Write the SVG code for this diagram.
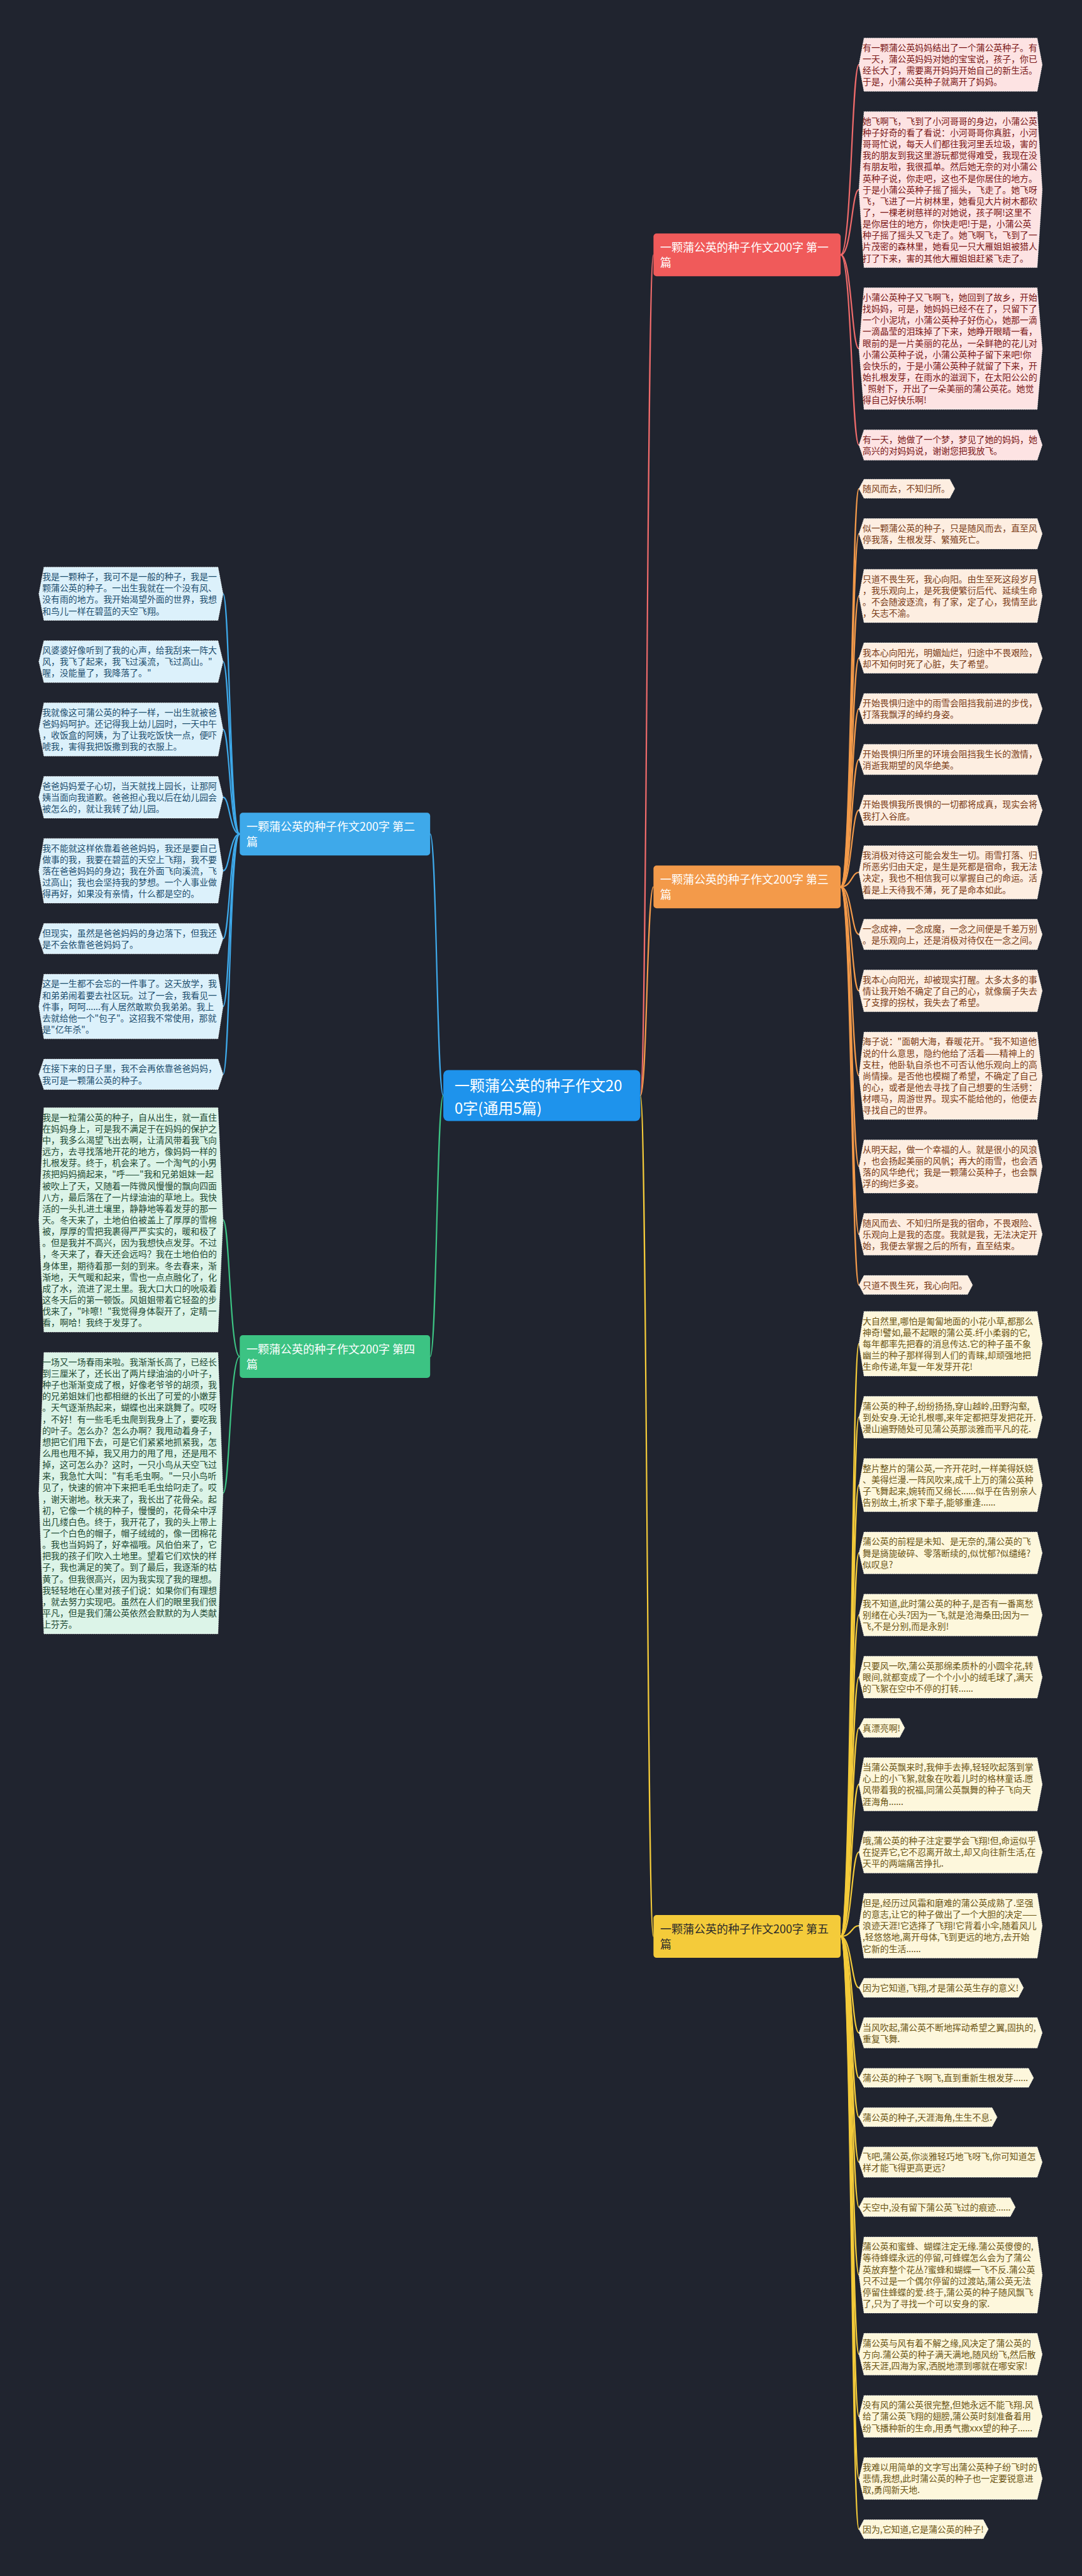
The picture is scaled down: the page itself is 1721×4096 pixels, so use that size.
<svg xmlns="http://www.w3.org/2000/svg" width="1721" height="4096" viewBox="0 0 1721 4096">
<style>
text{font-family:"Noto Sans CJK SC","Noto Sans",sans-serif}
.lf{font-size:13.9px}
.hx{stroke:#ffffff;stroke-opacity:.75;stroke-width:1;stroke-dasharray:1.5 1.5}
.f1{fill:#fde3e3}.t1{fill:#7a1616}
.f2{fill:#dcf1fb}.t2{fill:#1c4e6e}
.f3{fill:#fdeee1}.t3{fill:#7a3b16}
.f4{fill:#dcf4e8}.t4{fill:#1d4a33}
.f5{fill:#fdf7dc}.t5{fill:#6b5514}
.c{fill:none;stroke-width:2.2}
.c1{stroke:#ef6b6b}.c2{stroke:#3ea9ea}.c3{stroke:#f39a4a}.c4{stroke:#3cc383}.c5{stroke:#f4cb3a}
.bn{font-size:18px;fill:#ffffff}
.bt{font-size:18px;fill:#2a2a2a}
</style>
<rect x="0" y="0" width="1721" height="4096" fill="#20242f"/>

<g id="connectors">
<path class="c c1" stroke-width="3" d="M1018.5,1742 C1029,1742 1029,405.2 1039.4,405.2"/>
<path class="c c3" stroke-width="3" d="M1018.5,1742 C1029,1742 1029,1410.2 1039.4,1410.2"/>
<path class="c c5" stroke-width="3" d="M1018.5,1742 C1029,1742 1029,3079.1 1039.4,3079.1"/>
<path class="c c2" stroke-width="3" d="M705.1,1742 C694.6,1742 694.6,1326.2 684.2,1326.2"/>
<path class="c c4" stroke-width="3" d="M705.1,1742 C694.6,1742 694.6,2157 684.2,2157"/>
<g class="c c1">
<path d="M1337.1,405.2 C1354.6,405.2 1354.6,102.8 1366.2,102.8"/>
<path d="M1337.1,405.2 C1354.6,405.2 1354.6,301.4 1366.2,301.4"/>
<path d="M1337.1,405.2 C1354.6,405.2 1354.6,554.4 1366.2,554.4"/>
<path d="M1337.1,405.2 C1354.6,405.2 1354.6,707.6 1366.2,707.6"/>
</g>
<g class="c c3">
<path d="M1337.1,1410.2 C1354.6,1410.2 1354.6,777.1 1366.2,777.1"/>
<path d="M1337.1,1410.2 C1354.6,1410.2 1354.6,848.7 1366.2,848.7"/>
<path d="M1337.1,1410.2 C1354.6,1410.2 1354.6,947.5 1366.2,947.5"/>
<path d="M1337.1,1410.2 C1354.6,1410.2 1354.6,1046.3 1366.2,1046.3"/>
<path d="M1337.1,1410.2 C1354.6,1410.2 1354.6,1126.9 1366.2,1126.9"/>
<path d="M1337.1,1410.2 C1354.6,1410.2 1354.6,1207.6 1366.2,1207.6"/>
<path d="M1337.1,1410.2 C1354.6,1410.2 1354.6,1288.2 1366.2,1288.2"/>
<path d="M1337.1,1410.2 C1354.6,1410.2 1354.6,1387.0 1366.2,1387.0"/>
<path d="M1337.1,1410.2 C1354.6,1410.2 1354.6,1485.8 1366.2,1485.8"/>
<path d="M1337.1,1410.2 C1354.6,1410.2 1354.6,1575.5 1366.2,1575.5"/>
<path d="M1337.1,1410.2 C1354.6,1410.2 1354.6,1710.6 1366.2,1710.6"/>
<path d="M1337.1,1410.2 C1354.6,1410.2 1354.6,1854.7 1366.2,1854.7"/>
<path d="M1337.1,1410.2 C1354.6,1410.2 1354.6,1962.6 1366.2,1962.6"/>
<path d="M1337.1,1410.2 C1354.6,1410.2 1354.6,2043.2 1366.2,2043.2"/>
</g>
<g class="c c5">
<path d="M1337.1,3079.1 C1354.6,3079.1 1354.6,2136.6 1366.2,2136.6"/>
<path d="M1337.1,3079.1 C1354.6,3079.1 1354.6,2253.5 1366.2,2253.5"/>
<path d="M1337.1,3079.1 C1354.6,3079.1 1354.6,2361.4 1366.2,2361.4"/>
<path d="M1337.1,3079.1 C1354.6,3079.1 1354.6,2469.3 1366.2,2469.3"/>
<path d="M1337.1,3079.1 C1354.6,3079.1 1354.6,2568.0 1366.2,2568.0"/>
<path d="M1337.1,3079.1 C1354.6,3079.1 1354.6,2666.8 1366.2,2666.8"/>
<path d="M1337.1,3079.1 C1354.6,3079.1 1354.6,2747.5 1366.2,2747.5"/>
<path d="M1337.1,3079.1 C1354.6,3079.1 1354.6,2837.2 1366.2,2837.2"/>
<path d="M1337.1,3079.1 C1354.6,3079.1 1354.6,2945.0 1366.2,2945.0"/>
<path d="M1337.1,3079.1 C1354.6,3079.1 1354.6,3062.0 1366.2,3062.0"/>
<path d="M1337.1,3079.1 C1354.6,3079.1 1354.6,3160.7 1366.2,3160.7"/>
<path d="M1337.1,3079.1 C1354.6,3079.1 1354.6,3232.3 1366.2,3232.3"/>
<path d="M1337.1,3079.1 C1354.6,3079.1 1354.6,3303.9 1366.2,3303.9"/>
<path d="M1337.1,3079.1 C1354.6,3079.1 1354.6,3366.4 1366.2,3366.4"/>
<path d="M1337.1,3079.1 C1354.6,3079.1 1354.6,3438.0 1366.2,3438.0"/>
<path d="M1337.1,3079.1 C1354.6,3079.1 1354.6,3509.5 1366.2,3509.5"/>
<path d="M1337.1,3079.1 C1354.6,3079.1 1354.6,3617.4 1366.2,3617.4"/>
<path d="M1337.1,3079.1 C1354.6,3079.1 1354.6,3743.4 1366.2,3743.4"/>
<path d="M1337.1,3079.1 C1354.6,3079.1 1354.6,3842.2 1366.2,3842.2"/>
<path d="M1337.1,3079.1 C1354.6,3079.1 1354.6,3940.9 1366.2,3940.9"/>
<path d="M1337.1,3079.1 C1354.6,3079.1 1354.6,4021.6 1366.2,4021.6"/>
</g>
<g class="c c2">
<path d="M381.3,1326.2 C365.4,1326.2 365.4,944.2 354.8,944.2"/>
<path d="M381.3,1326.2 C365.4,1326.2 365.4,1052.0 354.8,1052.0"/>
<path d="M381.3,1326.2 C365.4,1326.2 365.4,1159.9 354.8,1159.9"/>
<path d="M381.3,1326.2 C365.4,1326.2 365.4,1267.7 354.8,1267.7"/>
<path d="M381.3,1326.2 C365.4,1326.2 365.4,1384.6 354.8,1384.6"/>
<path d="M381.3,1326.2 C365.4,1326.2 365.4,1492.5 354.8,1492.5"/>
<path d="M381.3,1326.2 C365.4,1326.2 365.4,1600.4 354.8,1600.4"/>
<path d="M381.3,1326.2 C365.4,1326.2 365.4,1708.2 354.8,1708.2"/>
</g>
<g class="c c4">
<path d="M381.3,2157 C365.4,2157 365.4,1939.7 354.8,1939.7"/>
<path d="M381.3,2157 C365.4,2157 365.4,2374.2 354.8,2374.2"/>
</g>
</g>

<g id="center">
<rect x="705.1" y="1701.5" width="313.4" height="81" rx="8" fill="#1e93ec"/>
<text x="723" y="1735" font-size="24" fill="#ffffff"><tspan x="723">一颗蒲公英的种子作文20</tspan><tspan x="723" dy="36">0字(通用5篇)</tspan></text>
</g>

<g id="branch1">
<rect x="1039.4" y="371.2" width="297.7" height="68" rx="5" fill="#f05a5a"/>
<text class="bn" x="1050" y="400.2"><tspan x="1050">一颗蒲公英的种子作文200字 第一</tspan><tspan x="1050" dy="24">篇</tspan></text>
</g>
<g id="branch2">
<rect x="381.3" y="1292.2" width="302.9" height="68" rx="5" fill="#3ea9ea"/>
<text class="bn" x="392" y="1321.2"><tspan x="392">一颗蒲公英的种子作文200字 第二</tspan><tspan x="392" dy="24">篇</tspan></text>
</g>
<g id="branch3">
<rect x="1039.4" y="1376.2" width="297.7" height="68" rx="5" fill="#f39a4a"/>
<text class="bn" x="1050" y="1405.2"><tspan x="1050">一颗蒲公英的种子作文200字 第三</tspan><tspan x="1050" dy="24">篇</tspan></text>
</g>
<g id="branch4">
<rect x="381.3" y="2123" width="302.9" height="68" rx="5" fill="#3cc383"/>
<text class="bn" x="392" y="2152"><tspan x="392">一颗蒲公英的种子作文200字 第四</tspan><tspan x="392" dy="24">篇</tspan></text>
</g>
<g id="branch5">
<rect x="1039.4" y="3045.1" width="297.7" height="68" rx="5" fill="#f4cb3a"/>
<text class="bt" x="1050" y="3074.1"><tspan x="1050">一颗蒲公英的种子作文200字 第五</tspan><tspan x="1050" dy="24">篇</tspan></text>
</g>

<g id="leaf-r1"><polygon class="hx f1" points="1366.2,102.8 1374.2,60.5 1649.8,60.5 1657.8,102.8 1649.8,145.2 1374.2,145.2"/>
<text class="lf t1" y="80.9"><tspan x="1372">有一颗蒲公英妈妈结出了一个蒲公英种子。有</tspan><tspan x="1372" dy="18.144">一天，蒲公英妈妈对她的宝宝说，孩子，你已</tspan><tspan x="1372" dy="18.144">经长大了，需要离开妈妈开始自己的新生活。</tspan><tspan x="1372" dy="18.144">于是，小蒲公英种子就离开了妈妈。</tspan></text></g>
<g id="leaf-r2"><polygon class="hx f1" points="1366.2,301.4 1374.2,177.4 1649.8,177.4 1657.8,301.4 1649.8,425.4 1374.2,425.4"/>
<text class="lf t1" y="197.8"><tspan x="1372">她飞啊飞，飞到了小河哥哥的身边，小蒲公英</tspan><tspan x="1372" dy="18.144">种子好奇的看了看说：小河哥哥你真脏，小河</tspan><tspan x="1372" dy="18.144">哥哥忙说，每天人们都往我河里丢垃圾，害的</tspan><tspan x="1372" dy="18.144">我的朋友到我这里游玩都觉得难受，我现在没</tspan><tspan x="1372" dy="18.144">有朋友啦，我很孤单。然后她无奈的对小蒲公</tspan><tspan x="1372" dy="18.144">英种子说，你走吧，这也不是你居住的地方。</tspan><tspan x="1372" dy="18.144">于是小蒲公英种子摇了摇头，飞走了。她飞呀</tspan><tspan x="1372" dy="18.144">飞，飞进了一片树林里，她看见大片树木都砍</tspan><tspan x="1372" dy="18.144">了，一棵老树慈祥的对她说，孩子啊!这里不</tspan><tspan x="1372" dy="18.144">是你居住的地方，你快走吧!于是，小蒲公英</tspan><tspan x="1372" dy="18.144">种子摇了摇头又飞走了。她飞啊飞，飞到了一</tspan><tspan x="1372" dy="18.144">片茂密的森林里，她看见一只大雁姐姐被猎人</tspan><tspan x="1372" dy="18.144">打了下来，害的其他大雁姐姐赶紧飞走了。</tspan></text></g>
<g id="leaf-r3"><polygon class="hx f1" points="1366.2,554.4 1374.2,457.6 1649.8,457.6 1657.8,554.4 1649.8,651.1 1374.2,651.1"/>
<text class="lf t1" y="478.0"><tspan x="1372">小蒲公英种子又飞啊飞，她回到了故乡，开始</tspan><tspan x="1372" dy="18.144">找妈妈，可是，她妈妈已经不在了，只留下了</tspan><tspan x="1372" dy="18.144">一个小泥坑，小蒲公英种子好伤心，她那一滴</tspan><tspan x="1372" dy="18.144">一滴晶莹的泪珠掉了下来，她睁开眼睛一看，</tspan><tspan x="1372" dy="18.144">眼前的是一片美丽的花丛，一朵鲜艳的花儿对</tspan><tspan x="1372" dy="18.144">小蒲公英种子说，小蒲公英种子留下来吧!你</tspan><tspan x="1372" dy="18.144">会快乐的，于是小蒲公英种子就留了下来，开</tspan><tspan x="1372" dy="18.144">始扎根发芽，在雨水的滋润下，在太阳公公的</tspan><tspan x="1372" dy="18.144">`照射下，开出了一朵美丽的蒲公英花。她觉</tspan><tspan x="1372" dy="18.144">得自己好快乐啊!</tspan></text></g>
<g id="leaf-r4"><polygon class="hx f1" points="1366.2,707.6 1374.2,683.4 1649.8,683.4 1657.8,707.6 1649.8,731.8 1374.2,731.8"/>
<text class="lf t1" y="703.8"><tspan x="1372">有一天，她做了一个梦，梦见了她的妈妈，她</tspan><tspan x="1372" dy="18.144">高兴的对妈妈说，谢谢您把我放飞。</tspan></text></g>

<g id="leaf-o1"><polygon class="hx f3" points="1366.2,777.1 1374.2,762.0 1510.7,762.0 1518.7,777.1 1510.7,792.2 1374.2,792.2"/>
<text class="lf t3" y="782.4"><tspan x="1372">随风而去，不知归所。</tspan></text></g>
<g id="leaf-o2"><polygon class="hx f3" points="1366.2,848.7 1374.2,824.5 1649.8,824.5 1657.8,848.7 1649.8,872.9 1374.2,872.9"/>
<text class="lf t3" y="844.9"><tspan x="1372">似一颗蒲公英的种子，只是随风而去，直至风</tspan><tspan x="1372" dy="18.144">停我落，生根发芽、繁殖死亡。</tspan></text></g>
<g id="leaf-o3"><polygon class="hx f3" points="1366.2,947.5 1374.2,905.2 1649.8,905.2 1657.8,947.5 1649.8,989.9 1374.2,989.9"/>
<text class="lf t3" y="925.6"><tspan x="1372">只道不畏生死，我心向阳。由生至死这段岁月</tspan><tspan x="1372" dy="18.144">，我乐观向上，是死我便繁衍后代、延续生命</tspan><tspan x="1372" dy="18.144">。不会随波逐流，有了家，定了心，我情至此</tspan><tspan x="1372" dy="18.144">，矢志不渝。</tspan></text></g>
<g id="leaf-o4"><polygon class="hx f3" points="1366.2,1046.3 1374.2,1022.1 1649.8,1022.1 1657.8,1046.3 1649.8,1070.5 1374.2,1070.5"/>
<text class="lf t3" y="1042.5"><tspan x="1372">我本心向阳光，明媚灿烂，归途中不畏艰险，</tspan><tspan x="1372" dy="18.144">却不知何时死了心脏，失了希望。</tspan></text></g>
<g id="leaf-o5"><polygon class="hx f3" points="1366.2,1126.9 1374.2,1102.7 1649.8,1102.7 1657.8,1126.9 1649.8,1151.1 1374.2,1151.1"/>
<text class="lf t3" y="1123.1"><tspan x="1372">开始畏惧归途中的雨雪会阻挡我前进的步伐，</tspan><tspan x="1372" dy="18.144">打落我飘浮的绰约身姿。</tspan></text></g>
<g id="leaf-o6"><polygon class="hx f3" points="1366.2,1207.6 1374.2,1183.4 1649.8,1183.4 1657.8,1207.6 1649.8,1231.8 1374.2,1231.8"/>
<text class="lf t3" y="1203.8"><tspan x="1372">开始畏惧归所里的环境会阻挡我生长的激情，</tspan><tspan x="1372" dy="18.144">消逝我期望的风华绝美。</tspan></text></g>
<g id="leaf-o7"><polygon class="hx f3" points="1366.2,1288.2 1374.2,1264.0 1649.8,1264.0 1657.8,1288.2 1649.8,1312.4 1374.2,1312.4"/>
<text class="lf t3" y="1284.4"><tspan x="1372">开始畏惧我所畏惧的一切都将成真，现实会将</tspan><tspan x="1372" dy="18.144">我打入谷底。</tspan></text></g>
<g id="leaf-o8"><polygon class="hx f3" points="1366.2,1387.0 1374.2,1344.7 1649.8,1344.7 1657.8,1387.0 1649.8,1429.4 1374.2,1429.4"/>
<text class="lf t3" y="1365.1"><tspan x="1372">我消极对待这可能会发生一切。雨雪打落、归</tspan><tspan x="1372" dy="18.144">所恶劣归由天定，是生是死都是宿命，我无法</tspan><tspan x="1372" dy="18.144">决定，我也不相信我可以掌握自己的命运。活</tspan><tspan x="1372" dy="18.144">着是上天待我不薄，死了是命本如此。</tspan></text></g>
<g id="leaf-o9"><polygon class="hx f3" points="1366.2,1485.8 1374.2,1461.6 1649.8,1461.6 1657.8,1485.8 1649.8,1510.0 1374.2,1510.0"/>
<text class="lf t3" y="1482.0"><tspan x="1372">一念成神，一念成魔，一念之间便是千差万别</tspan><tspan x="1372" dy="18.144">。是乐观向上，还是消极对待仅在一念之间。</tspan></text></g>
<g id="leaf-o10"><polygon class="hx f3" points="1366.2,1575.5 1374.2,1542.2 1649.8,1542.2 1657.8,1575.5 1649.8,1608.7 1374.2,1608.7"/>
<text class="lf t3" y="1562.6"><tspan x="1372">我本心向阳光，却被现实打醒。太多太多的事</tspan><tspan x="1372" dy="18.144">情让我开始不确定了自己的心，就像瘸子失去</tspan><tspan x="1372" dy="18.144">了支撑的拐杖，我失去了希望。</tspan></text></g>
<g id="leaf-o11"><polygon class="hx f3" points="1366.2,1710.6 1374.2,1641.0 1649.8,1641.0 1657.8,1710.6 1649.8,1780.1 1374.2,1780.1"/>
<text class="lf t3" y="1661.4"><tspan x="1372">海子说："面朝大海，春暖花开。"我不知道他</tspan><tspan x="1372" dy="18.144">说的什么意思，隐约他给了活着——精神上的</tspan><tspan x="1372" dy="18.144">支柱，他卧轨自杀也不可否认他乐观向上的高</tspan><tspan x="1372" dy="18.144">尚情操。是否他也模糊了希望，不确定了自己</tspan><tspan x="1372" dy="18.144">的心，或者是他去寻找了自己想要的生活劈：</tspan><tspan x="1372" dy="18.144">材喂马，周游世界。现实不能给他的，他便去</tspan><tspan x="1372" dy="18.144">寻找自己的世界。</tspan></text></g>
<g id="leaf-o12"><polygon class="hx f3" points="1366.2,1854.7 1374.2,1812.4 1649.8,1812.4 1657.8,1854.7 1649.8,1897.1 1374.2,1897.1"/>
<text class="lf t3" y="1832.8"><tspan x="1372">从明天起，做一个幸福的人。就是很小的风浪</tspan><tspan x="1372" dy="18.144">，也会扬起美丽的风帆；再大的雨雪，也会洒</tspan><tspan x="1372" dy="18.144">落的风华绝代；我是一颗蒲公英种子，也会飘</tspan><tspan x="1372" dy="18.144">浮的绚烂多姿。</tspan></text></g>
<g id="leaf-o13"><polygon class="hx f3" points="1366.2,1962.6 1374.2,1929.3 1649.8,1929.3 1657.8,1962.6 1649.8,1995.8 1374.2,1995.8"/>
<text class="lf t3" y="1949.7"><tspan x="1372">随风而去、不知归所是我的宿命，不畏艰险、</tspan><tspan x="1372" dy="18.144">乐观向上是我的态度。我就是我，无法决定开</tspan><tspan x="1372" dy="18.144">始，我便去掌握之后的所有，直至结束。</tspan></text></g>
<g id="leaf-o14"><polygon class="hx f3" points="1366.2,2043.2 1374.2,2028.1 1539.0,2028.1 1547.0,2043.2 1539.0,2058.3 1374.2,2058.3"/>
<text class="lf t3" y="2048.5"><tspan x="1372">只道不畏生死，我心向阳。</tspan></text></g>

<g id="leaf-y1"><polygon class="hx f5" points="1366.2,2136.6 1374.2,2085.2 1649.8,2085.2 1657.8,2136.6 1649.8,2188.0 1374.2,2188.0"/>
<text class="lf t5" y="2105.6"><tspan x="1372">大自然里,哪怕是匍匐地面的小花小草,都那么</tspan><tspan x="1372" dy="18.144">神奇!譬如,最不起眼的蒲公英.纤小柔弱的它,</tspan><tspan x="1372" dy="18.144">每年都率先把春的消息传达.它的种子虽不象</tspan><tspan x="1372" dy="18.144">幽兰的种子那样得到人们的青睐,却顽强地把</tspan><tspan x="1372" dy="18.144">生命传递,年复一年发芽开花!</tspan></text></g>
<g id="leaf-y2"><polygon class="hx f5" points="1366.2,2253.5 1374.2,2220.3 1649.8,2220.3 1657.8,2253.5 1649.8,2286.8 1374.2,2286.8"/>
<text class="lf t5" y="2240.7"><tspan x="1372">蒲公英的种子,纷纷扬扬,穿山越岭,田野沟壑,</tspan><tspan x="1372" dy="18.144">到处安身.无论扎根哪,来年定都把芽发把花开.</tspan><tspan x="1372" dy="18.144">漫山遍野随处可见蒲公英那淡雅而平凡的花.</tspan></text></g>
<g id="leaf-y3"><polygon class="hx f5" points="1366.2,2361.4 1374.2,2319.1 1649.8,2319.1 1657.8,2361.4 1649.8,2403.7 1374.2,2403.7"/>
<text class="lf t5" y="2339.5"><tspan x="1372">整片整片的蒲公英,一齐开花时,一样美得妖娆</tspan><tspan x="1372" dy="18.144">、美得烂漫.一阵风吹来,成千上万的蒲公英种</tspan><tspan x="1372" dy="18.144">子飞舞起来,婉转而又绵长......似乎在告别亲人</tspan><tspan x="1372" dy="18.144">告别故土,祈求下辈子,能够重逢......</tspan></text></g>
<g id="leaf-y4"><polygon class="hx f5" points="1366.2,2469.3 1374.2,2436.0 1649.8,2436.0 1657.8,2469.3 1649.8,2502.5 1374.2,2502.5"/>
<text class="lf t5" y="2456.4"><tspan x="1372">蒲公英的前程是未知、是无奈的,蒲公英的飞</tspan><tspan x="1372" dy="18.144">舞是旖旎破碎、零落断续的,似忧郁?似缱绻?</tspan><tspan x="1372" dy="18.144">似叹息?</tspan></text></g>
<g id="leaf-y5"><polygon class="hx f5" points="1366.2,2568.0 1374.2,2534.8 1649.8,2534.8 1657.8,2568.0 1649.8,2601.3 1374.2,2601.3"/>
<text class="lf t5" y="2555.2"><tspan x="1372">我不知道,此时蒲公英的种子,是否有一番离愁</tspan><tspan x="1372" dy="18.144">别绪在心头?因为一飞,就是沧海桑田;因为一</tspan><tspan x="1372" dy="18.144">飞,不是分别,而是永别!</tspan></text></g>
<g id="leaf-y6"><polygon class="hx f5" points="1366.2,2666.8 1374.2,2633.6 1649.8,2633.6 1657.8,2666.8 1649.8,2700.1 1374.2,2700.1"/>
<text class="lf t5" y="2654.0"><tspan x="1372">只要风一吹,蒲公英那绵柔质朴的小圆伞花,转</tspan><tspan x="1372" dy="18.144">眼间,就都变成了一个个小小的绒毛球了,满天</tspan><tspan x="1372" dy="18.144">的飞絮在空中不停的打转......</tspan></text></g>
<g id="leaf-y7"><polygon class="hx f5" points="1366.2,2747.5 1374.2,2732.3 1431.0,2732.3 1439.0,2747.5 1431.0,2762.6 1374.2,2762.6"/>
<text class="lf t5" y="2752.7"><tspan x="1372">真漂亮啊!</tspan></text></g>
<g id="leaf-y8"><polygon class="hx f5" points="1366.2,2837.2 1374.2,2794.8 1649.8,2794.8 1657.8,2837.2 1649.8,2879.5 1374.2,2879.5"/>
<text class="lf t5" y="2815.2"><tspan x="1372">当蒲公英飘来时,我伸手去捧,轻轻吹起落到掌</tspan><tspan x="1372" dy="18.144">心上的小飞絮,就象在吹着儿时的格林童话.愿</tspan><tspan x="1372" dy="18.144">风带着我的祝福,同蒲公英飘舞的种子飞向天</tspan><tspan x="1372" dy="18.144">涯海角......</tspan></text></g>
<g id="leaf-y9"><polygon class="hx f5" points="1366.2,2945.0 1374.2,2911.8 1649.8,2911.8 1657.8,2945.0 1649.8,2978.3 1374.2,2978.3"/>
<text class="lf t5" y="2932.2"><tspan x="1372">哦,蒲公英的种子注定要学会飞翔!但,命运似乎</tspan><tspan x="1372" dy="18.144">在捉弄它,它不忍离开故土,却又向往新生活,在</tspan><tspan x="1372" dy="18.144">天平的两端痛苦挣扎.</tspan></text></g>
<g id="leaf-y10"><polygon class="hx f5" points="1366.2,3062.0 1374.2,3010.6 1649.8,3010.6 1657.8,3062.0 1649.8,3113.4 1374.2,3113.4"/>
<text class="lf t5" y="3031.0"><tspan x="1372">但是,经历过风霜和磨难的蒲公英成熟了.坚强</tspan><tspan x="1372" dy="18.144">的意志,让它的种子做出了一个大胆的决定——</tspan><tspan x="1372" dy="18.144">浪迹天涯!它选择了飞翔!它背着小伞,随着风儿</tspan><tspan x="1372" dy="18.144">,轻悠悠地,离开母体,飞到更远的地方,去开始</tspan><tspan x="1372" dy="18.144">它新的生活......</tspan></text></g>
<g id="leaf-y11"><polygon class="hx f5" points="1366.2,3160.7 1374.2,3145.6 1620.0,3145.6 1628.0,3160.7 1620.0,3175.9 1374.2,3175.9"/>
<text class="lf t5" y="3166.0"><tspan x="1372">因为它知道,飞翔,才是蒲公英生存的意义!</tspan></text></g>
<g id="leaf-y12"><polygon class="hx f5" points="1366.2,3232.3 1374.2,3208.1 1649.8,3208.1 1657.8,3232.3 1649.8,3256.5 1374.2,3256.5"/>
<text class="lf t5" y="3228.5"><tspan x="1372">当风吹起,蒲公英不断地挥动希望之翼,固执的,</tspan><tspan x="1372" dy="18.144">重复飞舞.</tspan></text></g>
<g id="leaf-y13"><polygon class="hx f5" points="1366.2,3303.9 1374.2,3288.8 1636.0,3288.8 1644.0,3303.9 1636.0,3319.0 1374.2,3319.0"/>
<text class="lf t5" y="3309.2"><tspan x="1372">蒲公英的种子飞啊飞,直到重新生根发芽......</tspan></text></g>
<g id="leaf-y14"><polygon class="hx f5" points="1366.2,3366.4 1374.2,3351.3 1578.0,3351.3 1586.0,3366.4 1578.0,3381.5 1374.2,3381.5"/>
<text class="lf t5" y="3371.7"><tspan x="1372">蒲公英的种子,天涯海角,生生不息.</tspan></text></g>
<g id="leaf-y15"><polygon class="hx f5" points="1366.2,3438.0 1374.2,3413.8 1649.8,3413.8 1657.8,3438.0 1649.8,3462.1 1374.2,3462.1"/>
<text class="lf t5" y="3434.2"><tspan x="1372">飞吧,蒲公英,你淡雅轻巧地飞呀飞,你可知道怎</tspan><tspan x="1372" dy="18.144">样才能飞得更高更远?</tspan></text></g>
<g id="leaf-y16"><polygon class="hx f5" points="1366.2,3509.5 1374.2,3494.4 1607.0,3494.4 1615.0,3509.5 1607.0,3524.6 1374.2,3524.6"/>
<text class="lf t5" y="3514.8"><tspan x="1372">天空中,没有留下蒲公英飞过的痕迹......</tspan></text></g>
<g id="leaf-y17"><polygon class="hx f5" points="1366.2,3617.4 1374.2,3556.9 1649.8,3556.9 1657.8,3617.4 1649.8,3677.9 1374.2,3677.9"/>
<text class="lf t5" y="3577.3"><tspan x="1372">蒲公英和蜜蜂、蝴蝶注定无缘.蒲公英傻傻的,</tspan><tspan x="1372" dy="18.144">等待蜂蝶永远的停留,可蜂蝶怎么会为了蒲公</tspan><tspan x="1372" dy="18.144">英放弃整个花丛?蜜蜂和蝴蝶一飞不反.蒲公英</tspan><tspan x="1372" dy="18.144">只不过是一个偶尔停留的过渡站,蒲公英无法</tspan><tspan x="1372" dy="18.144">停留住蜂蝶的爱.终于,蒲公英的种子随风飘飞</tspan><tspan x="1372" dy="18.144">了,只为了寻找一个可以安身的家.</tspan></text></g>
<g id="leaf-y18"><polygon class="hx f5" points="1366.2,3743.4 1374.2,3710.1 1649.8,3710.1 1657.8,3743.4 1649.8,3776.6 1374.2,3776.6"/>
<text class="lf t5" y="3730.5"><tspan x="1372">蒲公英与风有着不解之缘,风决定了蒲公英的</tspan><tspan x="1372" dy="18.144">方向.蒲公英的种子满天满地,随风纷飞,然后散</tspan><tspan x="1372" dy="18.144">落天涯,四海为家,洒脱地漂到哪就在哪安家!</tspan></text></g>
<g id="leaf-y19"><polygon class="hx f5" points="1366.2,3842.2 1374.2,3808.9 1649.8,3808.9 1657.8,3842.2 1649.8,3875.4 1374.2,3875.4"/>
<text class="lf t5" y="3829.3"><tspan x="1372">没有风的蒲公英很完整,但她永远不能飞翔.风</tspan><tspan x="1372" dy="18.144">给了蒲公英飞翔的翅膀,蒲公英时刻准备着用</tspan><tspan x="1372" dy="18.144">纷飞播种新的生命,用勇气撒xxx望的种子......</tspan></text></g>
<g id="leaf-y20"><polygon class="hx f5" points="1366.2,3940.9 1374.2,3907.7 1649.8,3907.7 1657.8,3940.9 1649.8,3974.2 1374.2,3974.2"/>
<text class="lf t5" y="3928.1"><tspan x="1372">我难以用简单的文字写出蒲公英种子纷飞时的</tspan><tspan x="1372" dy="18.144">悲情,我想,此时蒲公英的种子也一定要锐意进</tspan><tspan x="1372" dy="18.144">取,勇闯新天地.</tspan></text></g>
<g id="leaf-y21"><polygon class="hx f5" points="1366.2,4021.6 1374.2,4006.5 1564.0,4006.5 1572.0,4021.6 1564.0,4036.7 1374.2,4036.7"/>
<text class="lf t5" y="4026.9"><tspan x="1372">因为,它知道,它是蒲公英的种子!</tspan></text></g>

<g id="leaf-b1"><polygon class="hx f2" points="61.8,944.2 69.8,901.8 346.8,901.8 354.8,944.2 346.8,986.5 69.8,986.5"/>
<text class="lf t2" y="922.2"><tspan x="67.2">我是一颗种子，我可不是一般的种子，我是一</tspan><tspan x="67.2" dy="18.144">颗蒲公英的种子。一出生我就在一个没有风、</tspan><tspan x="67.2" dy="18.144">没有雨的地方。我开始渴望外面的世界，我想</tspan><tspan x="67.2" dy="18.144">和鸟儿一样在碧蓝的天空飞翔。</tspan></text></g>
<g id="leaf-b2"><polygon class="hx f2" points="61.8,1052.0 69.8,1018.8 346.8,1018.8 354.8,1052.0 346.8,1085.3 69.8,1085.3"/>
<text class="lf t2" y="1039.2"><tspan x="67.2">风婆婆好像听到了我的心声，给我刮来一阵大</tspan><tspan x="67.2" dy="18.144">风，我飞了起来，我飞过溪流，飞过高山。"</tspan><tspan x="67.2" dy="18.144">喔，没能量了，我降落了。"</tspan></text></g>
<g id="leaf-b3"><polygon class="hx f2" points="61.8,1159.9 69.8,1117.5 346.8,1117.5 354.8,1159.9 346.8,1202.2 69.8,1202.2"/>
<text class="lf t2" y="1137.9"><tspan x="67.2">我就像这可蒲公英的种子一样，一出生就被爸</tspan><tspan x="67.2" dy="18.144">爸妈妈呵护。还记得我上幼儿园时，一天中午</tspan><tspan x="67.2" dy="18.144">，收饭盒的阿姨，为了让我吃饭快一点，便吓</tspan><tspan x="67.2" dy="18.144">唬我，害得我把饭撒到我的衣服上。</tspan></text></g>
<g id="leaf-b4"><polygon class="hx f2" points="61.8,1267.7 69.8,1234.5 346.8,1234.5 354.8,1267.7 346.8,1301.0 69.8,1301.0"/>
<text class="lf t2" y="1254.9"><tspan x="67.2">爸爸妈妈爱子心切，当天就找上园长，让那阿</tspan><tspan x="67.2" dy="18.144">姨当面向我道歉。爸爸担心我以后在幼儿园会</tspan><tspan x="67.2" dy="18.144">被怎么的，就让我转了幼儿园。</tspan></text></g>
<g id="leaf-b5"><polygon class="hx f2" points="61.8,1384.6 69.8,1333.2 346.8,1333.2 354.8,1384.6 346.8,1436.0 69.8,1436.0"/>
<text class="lf t2" y="1353.6"><tspan x="67.2">我不能就这样依靠着爸爸妈妈，我还是要自己</tspan><tspan x="67.2" dy="18.144">做事的我，我要在碧蓝的天空上飞翔，我不要</tspan><tspan x="67.2" dy="18.144">落在爸爸妈妈的身边；我在外面飞向溪流，飞</tspan><tspan x="67.2" dy="18.144">过高山；我也会坚持我的梦想。一个人事业做</tspan><tspan x="67.2" dy="18.144">得再好，如果没有亲情，什么都是空的。</tspan></text></g>
<g id="leaf-b6"><polygon class="hx f2" points="61.8,1492.5 69.8,1468.3 346.8,1468.3 354.8,1492.5 346.8,1516.7 69.8,1516.7"/>
<text class="lf t2" y="1488.7"><tspan x="67.2">但现实，虽然是爸爸妈妈的身边落下，但我还</tspan><tspan x="67.2" dy="18.144">是不会依靠爸爸妈妈了。</tspan></text></g>
<g id="leaf-b7"><polygon class="hx f2" points="61.8,1600.4 69.8,1549.0 346.8,1549.0 354.8,1600.4 346.8,1651.8 69.8,1651.8"/>
<text class="lf t2" y="1569.4"><tspan x="67.2">这是一生都不会忘的一件事了。这天放学，我</tspan><tspan x="67.2" dy="18.144">和弟弟闹着要去社区玩。过了一会，我看见一</tspan><tspan x="67.2" dy="18.144">件事，呵呵......有人居然敢欺负我弟弟。我上</tspan><tspan x="67.2" dy="18.144">去就给他一个"包子"。这招我不常使用，那就</tspan><tspan x="67.2" dy="18.144">是"亿年杀"。</tspan></text></g>
<g id="leaf-b8"><polygon class="hx f2" points="61.8,1708.2 69.8,1684.0 346.8,1684.0 354.8,1708.2 346.8,1732.4 69.8,1732.4"/>
<text class="lf t2" y="1704.4"><tspan x="67.2">在接下来的日子里，我不会再依靠爸爸妈妈，</tspan><tspan x="67.2" dy="18.144">我可是一颗蒲公英的种子。</tspan></text></g>

<g id="leaf-g1"><polygon class="hx f4" points="61.8,1939.7 69.8,1761.3 346.8,1761.3 354.8,1939.7 346.8,2118.1 69.8,2118.1"/>
<text class="lf t4" y="1781.7"><tspan x="67.2">我是一粒蒲公英的种子，自从出生，就一直住</tspan><tspan x="67.2" dy="18.144">在妈妈身上，可是我不满足于在妈妈的保护之</tspan><tspan x="67.2" dy="18.144">中，我多么渴望飞出去啊，让清风带着我飞向</tspan><tspan x="67.2" dy="18.144">远方，去寻找落地开花的地方，像妈妈一样的</tspan><tspan x="67.2" dy="18.144">扎根发芽。终于，机会来了。一个淘气的小男</tspan><tspan x="67.2" dy="18.144">孩把妈妈摘起来，"呼——"我和兄弟姐妹一起</tspan><tspan x="67.2" dy="18.144">被吹上了天，又随着一阵微风慢慢的飘向四面</tspan><tspan x="67.2" dy="18.144">八方，最后落在了一片绿油油的草地上。我快</tspan><tspan x="67.2" dy="18.144">活的一头扎进土壤里，静静地等着发芽的那一</tspan><tspan x="67.2" dy="18.144">天。冬天来了，土地伯伯被盖上了厚厚的雪棉</tspan><tspan x="67.2" dy="18.144">被，厚厚的雪把我裹得严严实实的，暖和极了</tspan><tspan x="67.2" dy="18.144">。但是我并不高兴，因为我想快点发芽。不过</tspan><tspan x="67.2" dy="18.144">，冬天来了，春天还会远吗？我在土地伯伯的</tspan><tspan x="67.2" dy="18.144">身体里，期待着那一刻的到来。冬去春来，渐</tspan><tspan x="67.2" dy="18.144">渐地，天气暖和起来，雪也一点点融化了，化</tspan><tspan x="67.2" dy="18.144">成了水，流进了泥土里。我大口大口的吮吸着</tspan><tspan x="67.2" dy="18.144">这冬天后的第一顿饭。风姐姐带着它轻盈的步</tspan><tspan x="67.2" dy="18.144">伐来了，"咔嚓！"我觉得身体裂开了，定睛一</tspan><tspan x="67.2" dy="18.144">看，啊哈！我终于发芽了。</tspan></text></g>
<g id="leaf-g2"><polygon class="hx f4" points="61.8,2374.2 69.8,2150.4 346.8,2150.4 354.8,2374.2 346.8,2598.0 69.8,2598.0"/>
<text class="lf t4" y="2170.8"><tspan x="67.2">一场又一场春雨来啦。我渐渐长高了，已经长</tspan><tspan x="67.2" dy="18.144">到三厘米了，还长出了两片绿油油的小叶子，</tspan><tspan x="67.2" dy="18.144">种子也渐渐变成了根，好像老爷爷的胡须，我</tspan><tspan x="67.2" dy="18.144">的兄弟姐妹们也都相继的长出了可爱的小嫩芽</tspan><tspan x="67.2" dy="18.144">。天气逐渐热起来，蝴蝶也出来跳舞了。哎呀</tspan><tspan x="67.2" dy="18.144">，不好！有一些毛毛虫爬到我身上了，要吃我</tspan><tspan x="67.2" dy="18.144">的叶子。怎么办？怎么办啊？我甩动着身子，</tspan><tspan x="67.2" dy="18.144">想把它们甩下去，可是它们紧紧地抓紧我，怎</tspan><tspan x="67.2" dy="18.144">么甩也甩不掉，我又用力的甩了甩，还是甩不</tspan><tspan x="67.2" dy="18.144">掉，这可怎么办？这时，一只小鸟从天空飞过</tspan><tspan x="67.2" dy="18.144">来，我急忙大叫："有毛毛虫啊。"一只小鸟听</tspan><tspan x="67.2" dy="18.144">见了，快速的俯冲下来把毛毛虫给叼走了。哎</tspan><tspan x="67.2" dy="18.144">，谢天谢地。秋天来了，我长出了花骨朵。起</tspan><tspan x="67.2" dy="18.144">初，它像一个桃的种子，慢慢的，花骨朵中浮</tspan><tspan x="67.2" dy="18.144">出几缕白色。终于，我开花了，我的头上带上</tspan><tspan x="67.2" dy="18.144">了一个白色的帽子，帽子绒绒的，像一团棉花</tspan><tspan x="67.2" dy="18.144">。我也当妈妈了，好幸福哦。风伯伯来了，它</tspan><tspan x="67.2" dy="18.144">把我的孩子们吹入土地里。望着它们欢快的样</tspan><tspan x="67.2" dy="18.144">子，我也满足的笑了。到了最后，我逐渐的枯</tspan><tspan x="67.2" dy="18.144">黄了。但我很高兴，因为我实现了我的理想。</tspan><tspan x="67.2" dy="18.144">我轻轻地在心里对孩子们说：如果你们有理想</tspan><tspan x="67.2" dy="18.144">，就去努力实现吧。虽然在人们的眼里我们很</tspan><tspan x="67.2" dy="18.144">平凡，但是我们蒲公英依然会默默的为人类献</tspan><tspan x="67.2" dy="18.144">上芬芳。</tspan></text></g>
</svg>
